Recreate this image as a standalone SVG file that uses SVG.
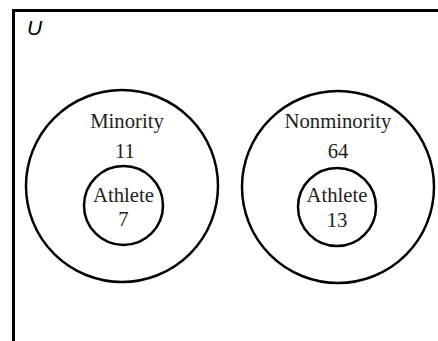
<svg xmlns="http://www.w3.org/2000/svg" width="438" height="341" viewBox="0 0 438 341">
<style>
.c{fill:none;stroke:#000;stroke-width:2.5}
.t{font-family:"Liberation Serif","Times New Roman",serif;font-size:20.7px;fill:#222;text-anchor:middle}
</style>
<rect width="438" height="341" fill="#fff"/>
<g id="universe">
<path d="M13.5 345 V10.5 H445" fill="none" stroke="#000" stroke-width="3"/>
<text x="27" y="35" font-family="Liberation Sans, Arial, sans-serif" font-style="italic" font-size="21" fill="#000">U</text>
</g>
<g id="minority">
<circle class="c" cx="122" cy="186" r="96"/>
<text class="t" x="127" y="128">Minority</text>
<text class="t" x="125" y="158">11</text>
</g>
<g id="minority-athlete">
<circle class="c" cx="123.5" cy="205.5" r="39.5"/>
<text class="t" x="123.5" y="202">Athlete</text>
<text class="t" x="123.5" y="226">7</text>
</g>
<g id="nonminority">
<circle class="c" cx="338" cy="187" r="96"/>
<text class="t" x="338" y="128">Nonminority</text>
<text class="t" x="338" y="158">64</text>
</g>
<g id="nonminority-athlete">
<circle class="c" cx="337" cy="207" r="39"/>
<text class="t" x="337" y="202">Athlete</text>
<text class="t" x="337" y="227">13</text>
</g>
<g id="connectors"></g>
</svg>
